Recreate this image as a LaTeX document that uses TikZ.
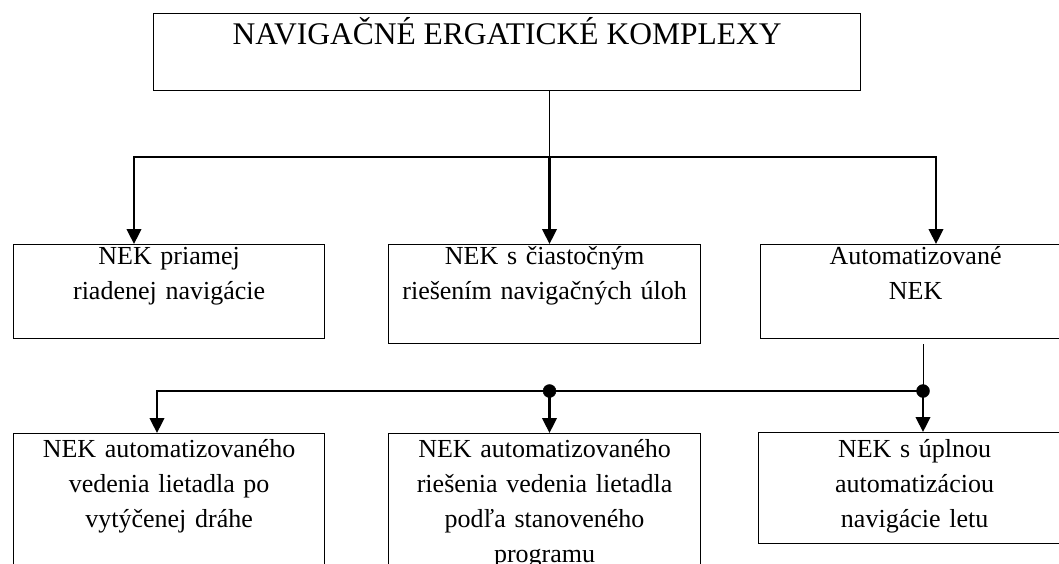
\documentclass[tikz,border=0pt]{standalone}
\usepackage{fontspec}
\setmainfont{Liberation Serif}
\usetikzlibrary{arrows.meta,positioning,calc}
\tikzset{
  box/.style={draw, line width=1.2pt, anchor=north west, inner sep=0pt},
  txt/.style={anchor=base, text width=330pt, align=center, inner sep=0pt,
    font=\fontsize{26}{35}\selectfont},
  ttl/.style={anchor=base, inner sep=0pt, font=\fontsize{31.5}{38}\selectfont},
  stem/.style={line width=0.9pt},
  bus/.style={line width=2.4pt},
  arr/.style={line width=2.4pt, -{Triangle[length=15pt,width=14.5pt]}}
}

\begin{document}
\begin{tikzpicture}[x=1pt,y=-1pt]
		\useasboundingbox (0,0) rectangle (1059,563);
		\clip (0,0) rectangle (1059,563);
		% boxes
		\node[box, minimum width=707pt, minimum height=77pt] (top) at (153,13) {};
		\node[box, minimum width=311pt, minimum height=94pt] (m1) at (13,244) {};
		\node[box, minimum width=312pt, minimum height=99pt] (m2) at (388,244) {};
		\node[box, minimum width=310pt, minimum height=94pt] (m3) at (760,244) {};
		\node[box, minimum width=311pt, minimum height=200pt] (b1) at (13,433) {};
		\node[box, minimum width=312pt, minimum height=200pt] (b2) at (388,433) {};
		\node[box, minimum width=312pt, minimum height=111pt] (b3) at (758,432) {};
		% texts
		\node[ttl] (topt) at ([yshift=-31pt]top.north) {NAVIGAČNÉ ERGATICKÉ KOMPLEXY};
		\node[txt] (m1t) at ([yshift=-20pt]m1.north) {NEK priamej\\riadenej navigácie};
		\node[txt] (m2t) at ([yshift=-20pt]m2.north) {NEK s čiastočným\\riešením navigačných úloh};
		\node[txt] (m3t) at ([yshift=-20pt]m3.north) {Automatizované\\NEK};
		\node[txt] (b1t) at ([yshift=-24pt]b1.north) {NEK automatizovaného\\vedenia lietadla po\\vytýčenej dráhe};
		\node[txt] (b2t) at ([yshift=-24pt]b2.north) {NEK automatizovaného\\riešenia vedenia lietadla\\podľa stanoveného\\programu};
		\node[txt] (b3t) at ([yshift=-25pt]b3.north) {NEK s úplnou\\automatizáciou\\navigácie letu};
		% upper level
		\coordinate (a0) at (549.5,157);
		\coordinate (a1) at (134,157);
		\coordinate (a3) at (936,157);
		\draw[stem] (a0 |- top.south) -- (a0);
		\draw[arr] (a0) -| (a1 |- m1.north);
		\draw[arr] (a0) -| (a3 |- m3.north);
		\draw[arr] (a0) -- (a0 |- m2.north);
		% lower level
		\coordinate (c1) at (157,391);
		\coordinate (c2) at (549.5,391);
		\coordinate (c3) at (923,391);
		\draw[stem] ($(c3 |- m3.south)+(0,5)$) -- (c3);
		\draw[arr] (c2) -| (c1 |- b1.north);
		\draw[bus] (c2) -- (c3);
		\draw[arr] (c2) -- (c2 |- b2.north);
		\draw[arr] (c3) -- (c3 |- b3.north);
		\filldraw (c2) circle (6.5pt);
		\filldraw (c3) circle (6.5pt);
	\end{tikzpicture}
\end{document}
